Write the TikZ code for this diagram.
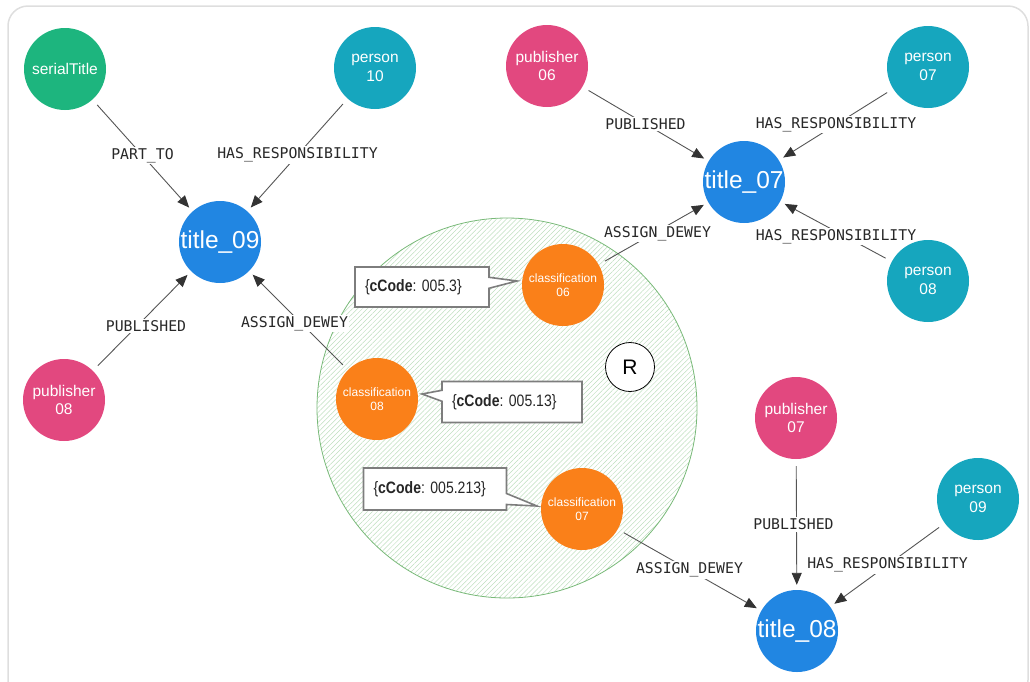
\documentclass[tikz,border=0pt]{standalone}
\usepackage{fontspec}
\setmainfont{Liberation Sans}
\newfontfamily\monofnt{DejaVu Sans Mono}
\newfontfamily\callfnt[FakeStretch=0.85]{Liberation Sans}
\usetikzlibrary{arrows.meta,shapes.callouts,patterns.meta}
\pgfdeclarelayer{bottom}
\pgfdeclarelayer{edges}
\pgfsetlayers{bottom,edges,main}
\definecolor{cgreen}{RGB}{29,181,126}
\definecolor{cteal}{RGB}{22,166,190}
\definecolor{cblue}{RGB}{33,134,226}
\definecolor{cpink}{RGB}{226,72,127}
\definecolor{corange}{RGB}{250,128,25}
\definecolor{edgec}{RGB}{85,85,85}
\definecolor{arrowc}{RGB}{51,51,51}
\definecolor{labelc}{RGB}{40,40,40}
\definecolor{hatchc}{RGB}{190,222,190}
\definecolor{regionc}{RGB}{120,185,120}
\definecolor{framec}{RGB}{222,222,222}
\definecolor{boxc}{RGB}{125,125,125}
\tikzset{
  ent/.style={circle, minimum size=82pt, inner sep=0pt, text=white, align=center,
    font=\fontsize{15.5}{18.5}\selectfont},
  ttl/.style={ent, fill=cblue, font=\fontsize{24.5}{28}\selectfont},
  pers/.style={ent, fill=cteal},
  publ/.style={ent, fill=cpink},
  ser/.style={ent, fill=cgreen},
  cls/.style={ent, fill=corange, font=\fontsize{12}{14.5}\selectfont},
  rel/.style={draw=edgec, line width=0.9pt, shorten <=7pt, shorten >=5pt,
    -{Triangle[length=12pt,width=10pt,color=arrowc]}},
  lbl/.style={fill=white, inner sep=1.5pt, text=labelc,
    font=\monofnt\fontsize{14.8}{16}\selectfont},
  callbox/.style={rectangle callout, draw=boxc, line width=1.6pt, fill=white,
    callout pointer width=11pt, inner xsep=10pt, align=left, text=black!85,
    font=\callfnt\fontsize{16.5}{19}\selectfont\frenchspacing}
}
\begin{document}
\begin{tikzpicture}[x=1pt,y=-1pt]
\useasboundingbox (0,0) rectangle (1030,681);
\begin{pgfonlayer}{bottom}
\draw[rounded corners=20pt, draw=framec, line width=1.5pt] (8,6) rectangle (1028,700);
% hatched region
\node[circle, minimum size=380pt, inner sep=0pt, draw=regionc, line width=0.8pt,
  pattern={Lines[angle=45,distance=3.5pt,line width=0.5pt]}, pattern color=hatchc] (region) at (507,408) {};
\end{pgfonlayer}

% nodes
\node[ser]  (serial) at (65,69)   {serialTitle};
\node[pers] (p10)    at (375,68)  {person\\10};
\node[ttl]  (t09)    at (220,242) {title\_09};
\node[publ] (pub08)  at (64,400)  {publisher\\08};

\node[publ] (pub06)  at (547,66)  {publisher\\06};
\node[pers] (p07)    at (928,67)  {person\\07};
\node[ttl]  (t07)    at (744,182) {title\_07};
\node[pers] (p08)    at (928,281) {person\\08};

\node[cls]  (c06)    at (563,285) {classification\\06};
\node[cls]  (c08)    at (377,399) {classification\\08};
\node[cls]  (c07)    at (582,509) {classification\\07};

\node[circle, minimum size=49pt, inner sep=0pt, draw=black, line width=0.8pt, fill=white,
  font=\fontsize{21}{24}\selectfont] (R) at (630,367) {R};

\node[publ] (pub07)  at (796,418) {publisher\\07};
\node[pers] (p09)    at (978,499) {person\\09};
\node[ttl]  (t08)    at (797,631) {title\_08};

% callouts
\node[callbox, text width=114pt, minimum height=40pt, callout absolute pointer={(517,281)}]
  (co06) at (422,287) {\{\textbf{cCode}: 005.3\}};
\node[callbox, text width=120pt, minimum height=41pt, callout absolute pointer={(422,394)}]
  (co08) at (512,402) {\{\textbf{cCode}: 005.13\}};
\node[callbox, text width=123pt, minimum height=42pt, callout absolute pointer={(537,506)}]
  (co07) at (435,489) {\{\textbf{cCode}: 005.213\}};

% edges
\begin{pgfonlayer}{edges}
\draw[rel] (serial) -- node[lbl] {PART\_TO} (t09);
\draw[rel] (p10) -- node[lbl] {HAS\_RESPONSIBILITY} (t09);
\draw[rel] (pub08) -- node[lbl, xshift=4pt, yshift=-5pt] {PUBLISHED} (t09);
\draw[rel] (c08) -- node[lbl, xshift=-4pt, yshift=-3pt] {ASSIGN\_DEWEY} (t09);

\draw[rel] (pub06) -- node[lbl] {PUBLISHED} (t07);
\draw[rel] (p07) -- node[lbl] {HAS\_RESPONSIBILITY} (t07);
\draw[rel] (c06) -- node[lbl, xshift=4pt] {ASSIGN\_DEWEY} (t07);
\draw[rel] (p08) -- node[lbl, yshift=-5pt] {HAS\_RESPONSIBILITY} (t07);

\draw[rel] (pub07) -- node[lbl, xshift=-3pt] {PUBLISHED} (t08);
\draw[rel] (p09) -- node[lbl] {HAS\_RESPONSIBILITY} (t08);
\draw[rel] (c07) -- node[lbl] {ASSIGN\_DEWEY} (t08);
\end{pgfonlayer}
\end{tikzpicture}
\end{document}
